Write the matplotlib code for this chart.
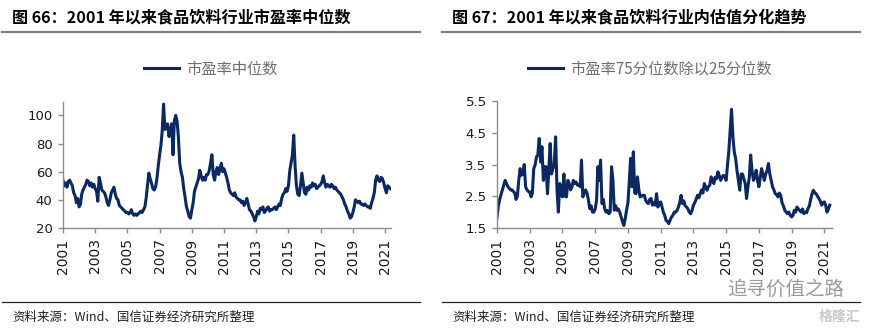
import numpy as np
import pandas as pd
import matplotlib
matplotlib.use('Agg')
import matplotlib.pyplot as plt
from matplotlib.lines import Line2D

plt.rcParams['font.family'] = ['DejaVu Sans', 'Noto Sans CJK SC']
CJK = ['Noto Sans CJK SC', 'DejaVu Sans']

# --- 数据（月度，2001.01 - 2021.05，读图估计） ---
pe_median = [
    54, 50, 52, 49, 53, 54, 52, 50, 45, 43, 38, 41,   # 2001
    35, 37, 44, 47, 49, 51, 54, 53, 50, 52, 49, 51,   # 2002
    48, 46, 39, 56, 52, 47, 46, 45, 42, 38, 36, 40,   # 2003
    45, 47, 49, 44, 41, 40, 36, 35, 34, 33, 32, 31,   # 2004
    31, 30, 31, 33, 30, 29, 30, 29, 30, 31, 32, 31,   # 2005
    33, 35, 41, 50, 59, 55, 52, 48, 47, 49, 55, 64,   # 2006
    72, 79, 89, 108, 90, 92, 94, 85, 88, 94, 72, 96,  # 2007
    100, 96, 85, 66, 60, 56, 48, 42, 35, 32, 28, 27,  # 2008
    33, 38, 46, 49, 52, 55, 61, 57, 54, 56, 54, 58,   # 2009
    58, 61, 66, 72, 58, 54, 60, 63, 58, 62, 66, 60,   # 2010
    62, 59, 56, 52, 47, 45, 44, 43, 45, 42, 41, 40,   # 2011
    40, 38, 39, 36, 38, 41, 37, 33, 32, 30, 28, 25,   # 2012
    28, 32, 30, 34, 33, 35, 31, 32, 34, 35, 32, 33,   # 2013
    33, 34, 35, 33, 35, 37, 36, 41, 44, 45, 48, 46,   # 2014
    50, 61, 66, 72, 86, 64, 50, 44, 43, 50, 59, 52,   # 2015
    45, 44, 49, 47, 50, 49, 52, 50, 51, 48, 49, 50,   # 2016
    51, 53, 57, 52, 49, 51, 50, 49, 51, 50, 48, 49,   # 2017
    47, 46, 45, 44, 42, 40, 37, 35, 32, 30, 27, 28,   # 2018
    31, 35, 40, 39, 38, 39, 37, 37, 36, 37, 36, 35,   # 2019
    35, 34, 38, 41, 45, 54, 57, 54, 53, 56, 55, 52,   # 2020
    48, 45, 50, 49, 48,                               # 2021
]

pe_75_25 = [
    1.85, 2.20, 2.40, 2.55, 2.70, 2.85, 3.00, 2.90, 2.80, 2.75, 2.70, 2.70,  # 2001
    2.65, 2.60, 2.40, 2.50, 3.00, 3.37, 3.16, 3.20, 3.50, 2.80, 2.70, 2.65,  # 2002
    2.64, 2.48, 2.60, 3.37, 3.48, 3.74, 3.80, 4.32, 3.58, 4.06, 3.00, 3.43,  # 2003
    3.43, 2.58, 3.30, 4.16, 3.20, 3.37, 3.50, 4.37, 2.70, 2.00, 2.90, 2.60,  # 2004
    2.48, 3.20, 2.50, 2.48, 3.00, 2.90, 2.70, 2.80, 3.00, 2.90, 2.95, 2.85,  # 2005
    2.85, 2.80, 3.64, 2.48, 2.60, 2.70, 2.60, 2.40, 2.11, 2.20, 2.00, 2.00,  # 2006
    2.10, 2.37, 3.43, 3.00, 3.64, 2.27, 2.40, 2.10, 2.00, 2.05, 1.95, 2.00,  # 2007
    3.43, 3.00, 2.06, 2.20, 2.06, 2.10, 2.00, 1.85, 1.70, 1.58, 1.80, 2.06,  # 2008
    2.30, 3.00, 3.69, 2.80, 3.90, 2.60, 2.58, 3.11, 2.70, 2.48, 2.50, 2.53,  # 2009
    2.53, 2.37, 2.30, 2.27, 2.40, 2.43, 2.22, 2.30, 2.22, 2.58, 2.16, 2.30,  # 2010
    2.32, 2.16, 2.00, 1.90, 1.74, 1.70, 1.64, 1.75, 1.85, 1.90, 2.00, 2.00,  # 2011
    2.05, 2.16, 2.30, 2.53, 2.27, 2.35, 2.20, 2.16, 2.10, 2.00, 1.95, 2.05,  # 2012
    2.22, 2.30, 2.40, 2.53, 2.45, 2.58, 2.70, 2.60, 2.90, 2.80, 2.69, 2.80,  # 2013
    2.85, 3.11, 3.00, 2.90, 3.10, 3.05, 3.27, 3.15, 3.00, 3.10, 3.16, 3.10,  # 2014
    3.00, 3.50, 3.90, 4.58, 5.24, 4.37, 3.90, 3.69, 3.30, 3.00, 2.69, 3.20,  # 2015
    3.20, 3.05, 2.90, 2.43, 2.80, 3.10, 3.80, 3.30, 3.00, 3.10, 3.32, 3.00,  # 2016
    2.80, 3.10, 3.37, 3.20, 3.00, 3.20, 3.30, 3.53, 3.20, 3.00, 2.80, 2.70,  # 2017
    2.58, 2.55, 2.48, 2.60, 2.53, 2.30, 2.20, 2.06, 2.00, 1.95, 2.00, 1.90,  # 2018
    1.85, 1.90, 2.06, 2.00, 2.16, 2.10, 2.05, 2.00, 2.10, 1.95, 2.00, 1.98,  # 2019
    2.11, 2.20, 2.40, 2.58, 2.69, 2.60, 2.58, 2.50, 2.43, 2.35, 2.22, 2.30,  # 2020
    2.32, 2.20, 2.00, 2.10, 2.22,                                            # 2021
]

tick_years = list(range(2001, 2022, 2))
titles = ['图 66：2001 年以来食品饮料行业市盈率中位数',
          '图 67：2001 年以来食品饮料行业内估值分化趋势']
legend_labels = ['市盈率中位数', '市盈率75分位数除以25分位数']
source = '资料来源：Wind、国信证券经济研究所整理'

dates = pd.date_range('2001-01-01', periods=len(pe_median), freq='MS')

line_color = '#0b2861'
axis_color = '#8c8c8c'

fig = plt.figure(figsize=(8.77, 3.29), dpi=100)
W, H = 877, 329

def fx(px):
    return px / W

def fy(py):
    return 1 - py / H

ax1 = fig.add_axes([fx(63), fy(228), fx(391) - fx(63), fy(102) - fy(228)])
ax2 = fig.add_axes([fx(497), fy(228), fx(832) - fx(497), fy(101) - fy(228)])

series = [pe_median, pe_75_25]
ylims = [(20, 109.5), (1.5, 5.5)]
yticks = [[20, 40, 60, 80, 100], [1.5, 2.5, 3.5, 4.5, 5.5]]
xends = [pd.Timestamp('2021-05-15'), pd.Timestamp('2021-06-20')]

for ax, vals, yl, yt, xe in zip([ax1, ax2], series, ylims, yticks, xends):
    ax.plot(dates, vals, color=line_color, linewidth=2.2)
    ax.set_ylim(*yl)
    ax.set_yticks(yt)
    if yt[0] == 1.5:
        ax.set_yticklabels([f'{v:.1f}' for v in yt])
    ax.set_xlim(pd.Timestamp('2001-01-01'), xe)
    ax.set_xticks([pd.Timestamp(f'{y}-01-01') for y in tick_years])
    ax.set_xticklabels([str(y) for y in tick_years], rotation=90)
    for s in ['top', 'right']:
        ax.spines[s].set_visible(False)
    for s in ['left', 'bottom']:
        ax.spines[s].set_color(axis_color)
        ax.spines[s].set_linewidth(1.0)
    ax.tick_params(axis='both', direction='out', length=3.5, width=1.0,
                   color=axis_color, labelcolor='#1a1a1a', pad=4)
    ax.tick_params(axis='y', labelsize=9.5)
    ax.tick_params(axis='x', labelsize=10)

# 图例
for ax, lab, cx in zip([ax1, ax2], legend_labels, [211, 650]):
    h = Line2D([0], [0], color=line_color, linewidth=2.2)
    leg = ax.legend([h], [lab], loc='center', bbox_to_anchor=(fx(cx), fy(69)),
                    bbox_transform=fig.transFigure, frameon=False,
                    handlelength=2.3, handletextpad=0.5,
                    prop={'family': CJK, 'size': 11})
    for t in leg.get_texts():
        t.set_color('#6e6e6e')

# 标题、分隔线、来源
for x0, x1, title in [(2, 420, titles[0]), (442, 860, titles[1])]:
    fig.text(fx(x0 + 10), fy(17), title, family=CJK, fontsize=11.6,
             fontweight='bold', ha='left', va='center', color='black')
    fig.add_artist(Line2D([fx(x0), fx(x1)], [fy(32), fy(32)],
                          color='#7f7f7f', linewidth=1.6))
    fig.add_artist(Line2D([fx(x0), fx(x1)], [fy(302), fy(302)],
                          color='#222222', linewidth=0.9))
    fig.text(fx(x0 + 10), fy(317), source, family=CJK, fontsize=9,
             ha='left', va='center', color='#222222')

# 水印
fig.text(fx(786), fy(289), '追寻价值之路', family=CJK, fontsize=14,
         ha='center', va='center', color='#9a9a9a')
fig.text(fx(840), fy(317), '格隆汇', family=CJK, fontsize=10,
         ha='center', va='center', color='#c8c8c8', fontweight='bold')

fig.savefig('out.png', dpi=100)
